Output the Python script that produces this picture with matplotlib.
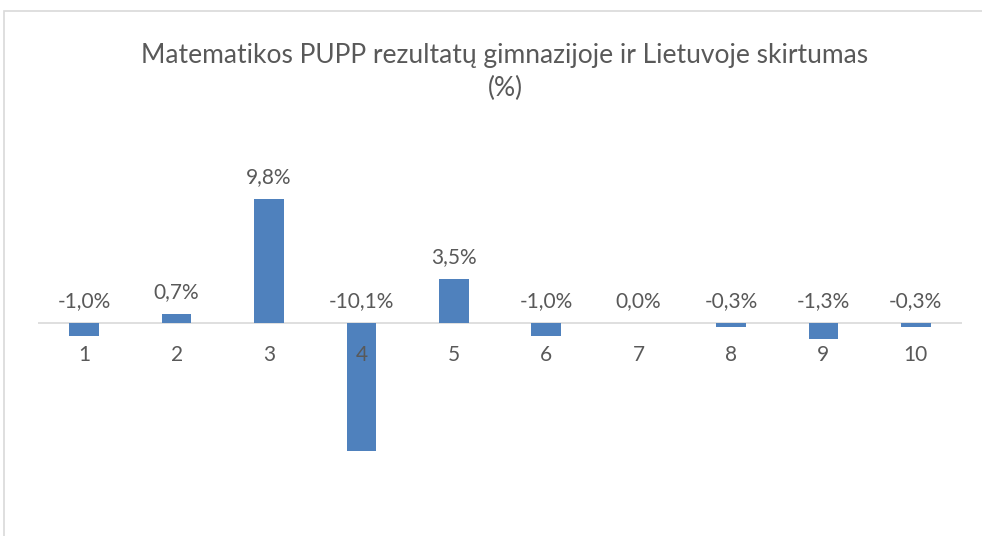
import matplotlib
matplotlib.use("Agg")
import matplotlib.pyplot as plt
from matplotlib.patches import Rectangle

# data
categories = ["1", "2", "3", "4", "5", "6", "7", "8", "9", "10"]
values = [-1.0, 0.7, 9.8, -10.1, 3.5, -1.0, 0.0, -0.3, -1.3, -0.3]
title = "Matematikos PUPP rezultatų gimnazijoje ir Lietuvoje skirtumas\n(%)"

plt.rcParams['font.family'] = ['Lato', 'DejaVu Sans']
txt_color = "#595959"
bar_color = "#4F81BD"

W, H = 982, 536
fig = plt.figure(figsize=(W / 100, H / 100), dpi=100)

# axes placed in pixels: x 38..962, y 150..500 (from top)
ax = fig.add_axes([38 / W, 1 - 500 / H, 924 / W, 350 / H])
ax.set_xlim(-0.5, len(categories) - 0.5)
ppu = 12.65  # pixels per percent
ax.set_ylim(-(500 - 323) / ppu, (323 - 150) / ppu)
ax.axis('off')

x = list(range(len(categories)))
ax.bar(x, values, width=0.32, color=bar_color, zorder=2)
ax.axhline(0, color="#D9D9D9", lw=1.2, zorder=1)

for i, v in enumerate(values):
    lab = f"{v:.1f}".replace('.', ',') + '%'
    ax.annotate(lab, xy=(i, max(v, 0)), xytext=(0, 12), textcoords='offset pixels',
                ha='center', va='bottom', fontsize=15, color=txt_color)
    ax.annotate(categories[i], xy=(i, 0), xytext=(0, -32), textcoords='offset pixels',
                ha='center', va='center', fontsize=15, color=txt_color)

fig.text(505 / W, 1 - 72 / H, title, ha='center', va='center', fontsize=19,
         color=txt_color, linespacing=1.35)

# chart frame
fig.patches.append(Rectangle((4 / W, -0.1), 1.2, 1 - 11 / H + 0.1, transform=fig.transFigure,
                             fill=False, edgecolor="#D9D9D9", lw=1.2))

fig.savefig("out.png", dpi=100)
